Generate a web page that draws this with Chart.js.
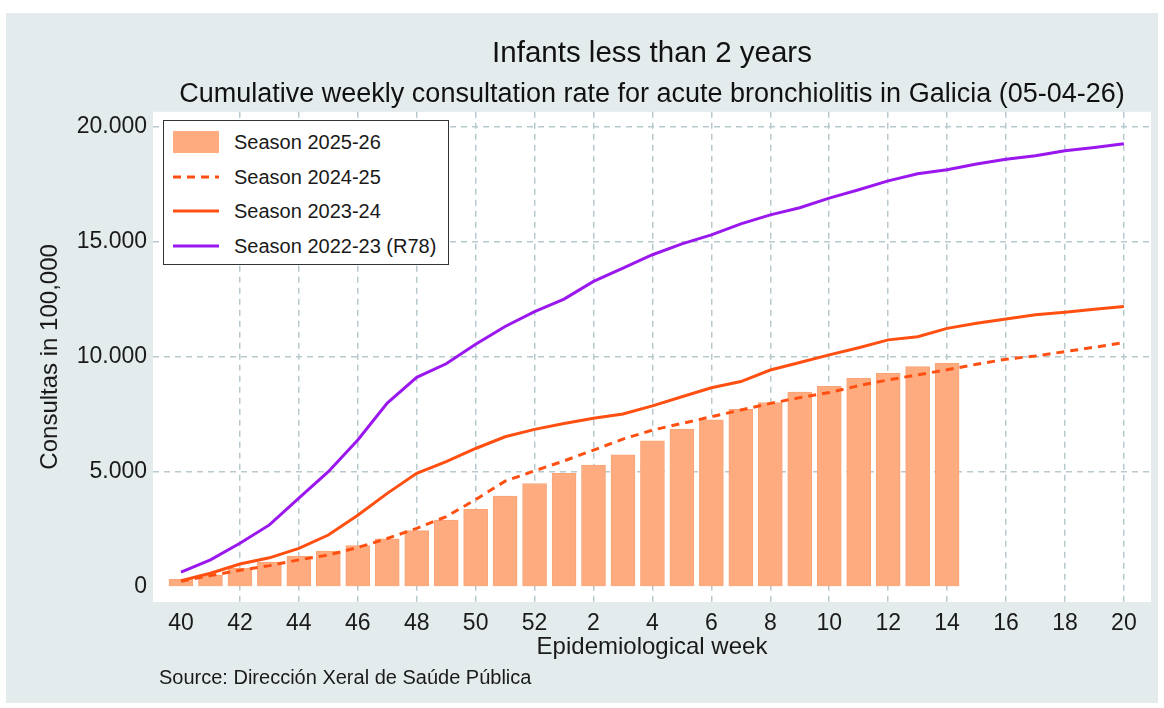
<!DOCTYPE html>
<html>
<head>
<meta charset="utf-8">
<script src="https://cdn.jsdelivr.net/npm/chart.js@4.4.1/dist/chart.umd.min.js"></script>
<style>
  body { margin: 0; width: 1164px; height: 708px; background: #fff; position: relative; overflow: hidden;
         font-family: 'Liberation Sans', Arial, sans-serif; }
  #frame { position: absolute; left: 6px; top: 13px; width: 1152px; height: 690px; background: #e4ebed; }
  #legend { position: absolute; left: 163px; top: 120px; width: 284px; height: 143px;
            border: 1.5px solid #333; background: #fff; }
  .row { position: absolute; left: 0; height: 30px; width: 100%; }
  .row svg { position: absolute; left: 9px; top: 4px; }
  .row span { position: absolute; left: 70px; top: 4px; font-size: 20px; line-height: 22px; color: #1a1a1a; white-space: nowrap; }
  #source { position: absolute; left: 159px; top: 666px; font-size: 20px; line-height: 22px; color: #1a1a1a; }
</style>
</head>
<body>
<div id="frame"><canvas id="chart" width="1152" height="690"></canvas></div>
<div id="legend"></div>
<div id="source">Source: Dirección Xeral de Saúde Pública</div>
<script>
const weeks = [40,41,42,43,44,45,46,47,48,49,50,51,52,1,2,3,4,5,6,7,8,9,10,11,12,13,14,15,16,17,18,19,20];
const tickWeeks = [40,42,44,46,48,50,52,2,4,6,8,10,12,14,16,18,20];
const yTicks = [0, 5000, 10000, 15000, 20000];

const season2526 = [330,530,810,1090,1340,1560,1800,2100,2450,2910,3380,3950,4500,
                    4940,5300,5740,6350,6860,7270,7720,8020,8470,8720,9070,9290,9580,9720];
const season2425 = [250,500,730,930,1180,1390,1720,2110,2550,3060,3800,4600,5050,
                    5480,5950,6430,6820,7110,7400,7690,7980,8230,8450,8750,9000,9220,9440,
                    9680,9900,10040,10230,10420,10620];
const season2324 = [280,600,1000,1270,1680,2260,3120,4070,4940,5450,6020,6530,6850,
                    7110,7330,7520,7870,8270,8660,8930,9430,9760,10090,10400,10740,10880,11240,
                    11460,11650,11830,11940,12070,12190];
const season2223 = [650,1180,1900,2700,3860,5010,6390,7990,9110,9700,10550,11320,11970,
                    12510,13280,13860,14440,14910,15300,15780,16170,16480,16900,17260,17650,17960,18130,
                    18380,18590,18740,18960,19100,19260];

const FONT = "'Liberation Sans', Arial, sans-serif";
const BAR = '#fdab7f', ORANGE = '#ff5012', PURPLE = '#9a17ee';
const GRID = '#b7c9cd';

function pts(vals) { return vals.map((v, i) => ({ x: i, y: v })); }
const fmt = v => String(v).replace(/\B(?=(\d{3})+(?!\d))/g, '.');

const whiteArea = {
  id: 'whiteArea',
  beforeDraw(chart) {
    const a = chart.chartArea, c = chart.ctx;
    c.save();
    c.fillStyle = '#fff';
    c.fillRect(a.left, a.top, a.right - a.left, a.bottom - a.top);
    c.restore();
  }
};

const chart = new Chart(document.getElementById('chart'), {
  type: 'bar',
  data: {
    datasets: [
      { type: 'bar', label: 'Season 2025-26', data: pts(season2526), backgroundColor: BAR,
        borderColor: '#f8a476', borderWidth: 1, barThickness: 24, order: 5 },
      { type: 'line', label: 'Season 2024-25', data: pts(season2425), borderColor: ORANGE,
        borderWidth: 3, borderDash: [8, 6], pointRadius: 0, tension: 0, order: 3 },
      { type: 'line', label: 'Season 2023-24', data: pts(season2324), borderColor: ORANGE,
        borderWidth: 3, pointRadius: 0, tension: 0, order: 2 },
      { type: 'line', label: 'Season 2022-23 (R78)', data: pts(season2223), borderColor: PURPLE,
        borderWidth: 3, pointRadius: 0, tension: 0, order: 1 }
    ]
  },
  options: {
    responsive: false,
    animation: false,
    layout: { padding: { left: 0, right: 7, top: 0, bottom: 40 } },
    plugins: {
      legend: { display: false },
      tooltip: { enabled: false },
      title: { display: true, fullSize: false, text: 'Infants less than 2 years', color: '#111',
               font: { family: FONT, size: 29.5, weight: 'normal' }, padding: { top: 23, bottom: 4 } },
      subtitle: { display: true, fullSize: false,
                  text: 'Cumulative weekly consultation rate for acute bronchiolitis in Galicia (05-04-26)',
                  color: '#111', font: { family: FONT, size: 27, weight: 'normal' }, padding: { top: 3, bottom: 1 } }
    },
    scales: {
      x: {
        type: 'linear', min: -0.95, max: 32.92, offset: false,
        afterBuildTicks: s => { s.ticks = tickWeeks.map(w => ({ value: weeks.indexOf(w) })); },
        afterFit: s => { s.height = 61; },
        ticks: { callback: v => weeks[v], color: '#1a1a1a', padding: 8, maxRotation: 0, autoSkip: false,
                 font: { family: FONT, size: 23 } },
        grid: { offset: false, color: c => (c.tick && c.tick.value === 0) ? 'rgba(0,0,0,0)' : GRID,
                lineWidth: 1.5, drawTicks: false },
        border: { display: false, dash: [6, 5] },
        title: { display: true, text: 'Epidemiological week', color: '#1a1a1a',
                 font: { family: FONT, size: 24 }, padding: { top: 0, bottom: 1.6 } }
      },
      y: {
        min: -650, max: 20650,
        afterBuildTicks: s => { s.ticks = yTicks.map(v => ({ value: v })); },
        afterFit: s => { s.width = 147; },
        ticks: { callback: v => fmt(v), color: '#1a1a1a', padding: 6, font: { family: FONT, size: 23 } },
        grid: { color: c => (c.tick && c.tick.value === 0) ? 'rgba(0,0,0,0)' : GRID, lineWidth: 1.5, drawTicks: false },
        border: { display: false, dash: [6, 5] },
        title: { display: true, text: 'Consultas in 100,000', color: '#1a1a1a',
                 font: { family: FONT, size: 24 }, padding: { top: 30, bottom: 0 } }
      }
    }
  },
  plugins: [whiteArea]
});

// legend box built from the chart's datasets
const legend = document.getElementById('legend');
chart.data.datasets.forEach((ds, i) => {
  const row = document.createElement('div');
  row.className = 'row';
  row.style.top = (6 + i * 34.7) + 'px';
  let sw;
  if (ds.type === 'bar') {
    sw = `<rect x="0" y="0" width="46" height="22" fill="${ds.backgroundColor}"/>`;
  } else {
    const dash = ds.borderDash ? `stroke-dasharray="${ds.borderDash.join(' ')}"` : '';
    sw = `<line x1="0" y1="11" x2="46" y2="11" stroke="${ds.borderColor}" stroke-width="3" ${dash}/>`;
  }
  row.innerHTML = `<svg width="46" height="22">${sw}</svg><span>${ds.label}</span>`;
  legend.appendChild(row);
});
</script>
</body>
</html>
